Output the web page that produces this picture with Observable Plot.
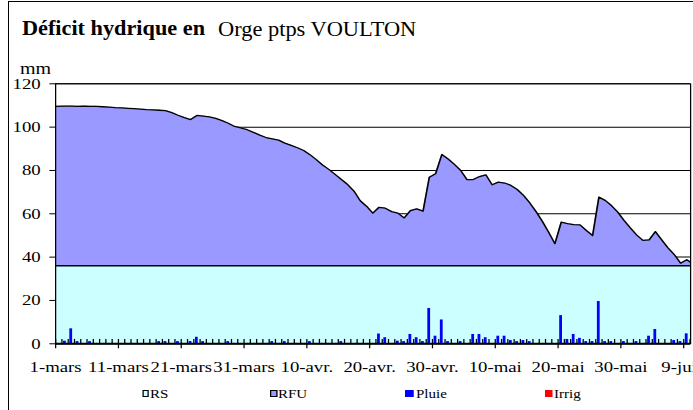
<!DOCTYPE html>
<html><head><meta charset="utf-8">
<script src="https://cdn.jsdelivr.net/npm/d3@7"></script>
<script src="https://cdn.jsdelivr.net/npm/@observablehq/plot@0.6"></script>
<style>
html,body{margin:0;padding:0;background:#fff;overflow:hidden;width:693px;height:410px;}
body{position:relative;font-family:"Liberation Serif","Times New Roman",serif;color:#000;}
#border{position:absolute;left:8px;top:1px;width:1000px;height:1000px;border-left:1.5px solid #000;border-top:1.5px solid #000;}
.t{position:absolute;white-space:nowrap;transform-origin:0 0;font-family:"Liberation Serif","Times New Roman",serif;}
#root{position:absolute;left:0;top:0;width:554.4px;height:410px;transform:scaleX(1.25);transform-origin:0 0;}
#mm{position:absolute;left:16px;top:60.6px;font-size:16px;line-height:16px;font-family:"Liberation Serif","Times New Roman",serif;}
.sq{position:absolute;top:389.5px;height:7px;box-sizing:border-box;}
.lt{position:absolute;top:387.5px;font-size:12px;line-height:12px;white-space:nowrap;font-family:"Liberation Serif","Times New Roman",serif;}
</style></head><body>
<div id="border"></div>
<div class="t" style="left:22px;top:18.4px;font-size:21px;line-height:21px;font-weight:bold;transform:scaleX(1.06)">Déficit hydrique en</div>
<div class="t" style="left:218px;top:19.25px;font-size:20px;line-height:20px;transform:scaleX(1.12)">Orge ptps VOULTON</div>
<div id="root">
  <div id="mm">mm</div>
  <div class="sq" style="left:113.6px;width:5.6px;background:#CCFFFF;border:1px solid #000"></div>
  <div class="lt" style="left:120px">RS</div>
  <div class="sq" style="left:216px;width:5.6px;background:#9999FF;border:1px solid #000"></div>
  <div class="lt" style="left:222.4px">RFU</div>
  <div class="sq" style="left:324px;width:6.5px;background:#0000FF"></div>
  <div class="lt" style="left:332.8px">Pluie</div>
  <div class="sq" style="left:436px;width:6px;background:#FF0000"></div>
  <div class="lt" style="left:443.2px">Irrig</div>
</div>
<script>
// x tick labels (every 10 days from 1 March)
const tickDays = [0, 10, 20, 30, 40, 50, 60, 70, 80, 90, 100];
const tickLabels = ["1-mars", "11-mars", "21-mars", "31-mars", "10-avr.", "20-avr.", "30-avr.", "10-mai", "20-mai", "30-mai", "9-juin"];
const yTicks = [0, 20, 40, 60, 80, 100, 120];

// RS (réserve de survie), constant level in mm
const RS = 36;

// total reserve RS + RFU, daily from 1 March (mm)
const reserve = [
  109.6,109.7,109.7,109.6,109.7,109.6,109.6,109.4,109.2,109.0,
  108.9,108.7,108.5,108.3,108.1,108.0,107.8,107.6,106.7,105.5,
  104.4,103.5,105.4,105.1,104.7,104.0,103.0,101.8,100.3,99.6,
  98.8,97.6,96.3,95.2,94.6,94.0,92.6,91.6,90.5,89.2,
  87.3,85.0,82.5,80.5,78.2,75.8,73.5,70.5,66.0,63.5,
  60.3,63.0,62.6,61.0,60.3,58.1,61.5,62.3,61.2,76.9,
  78.5,87.4,85.3,82.8,80.0,75.8,75.8,77.2,78.0,73.4,
  74.6,74.2,73.1,71.2,68.5,65.0,61.0,56.5,51.5,46.2,
  56.1,55.5,55.0,54.9,52.3,50.0,67.7,66.2,63.8,60.8,
  57.0,53.5,50.3,47.7,48.0,51.8,48.0,44.3,41.2,37.2,
  38.8,36.8
];

// daily rainfall (mm)
const pluie = [
  0,1.2,6.9,1.0,0,1.0,0,0,0,0,
  0,0,0,0,0,0,1.0,1.0,0,1.0,
  0,1.0,3.0,1.0,0,0,0,1.0,0,0,
  0,0,0,0,1.0,0,1.0,0,0,0,
  1.0,0,0,0,0,1.0,0,0,0,0,
  0,4.5,2.8,0,1.2,1.0,4.3,2.8,1.0,16.3,
  3.5,11.0,1.0,0,1.0,0,4.3,4.3,2.8,0,
  3.5,3.5,1.5,1.0,1.5,1.0,0,0,0,0,
  13.0,2.0,4.3,2.5,1.0,1.0,19.5,1.0,1.0,0,
  1.0,0,1.0,0,3.5,6.6,0,0,1.5,1.0,
  4.6,0
];

// irrigation (mm) – none applied
const irrig = [];

const days = d3.range(reserve.length);
const data = days.map(i => ({day: i, reserve: reserve[i], pluie: pluie[i]}));
const irrigData = irrig.map((v, i) => ({day: i, v}));
const minorTicks = d3.range(0, 102);

const xPos = (d, i) => (i === 0 ? 0 : d.day + 0.5);

const svg = Plot.plot({
  width: 554.4, height: 312,
  marginLeft: 44, marginRight: 2.4, marginTop: 13.3, marginBottom: 38.7,
  style: {fontFamily: '"Liberation Serif","Times New Roman",serif', fontSize: "15px", color: "#000", background: "transparent", overflow: "visible"},
  x: {domain: [0, 101.1], ticks: tickDays, tickFormat: d => tickLabels[tickDays.indexOf(d)], tickSize: 5, tickPadding: 12.5, label: null},
  y: {domain: [0, 120], ticks: yTicks, tickSize: 4.5, tickPadding: 7.5, label: null},
  marks: [
    Plot.ruleY(yTicks.slice(1), {stroke: "#000", strokeWidth: 1}),
    Plot.rectY([RS], {y: d => d, fill: "#CCFFFF"}),
    Plot.areaY(data, {x: xPos, y1: () => RS, y2: "reserve", fill: "#9999FF", clip: true}),
    Plot.ruleY([RS], {stroke: "#000", strokeWidth: 1.5}),
    Plot.line(data, {x: xPos, y: "reserve", stroke: "#000", strokeWidth: 1.3, clip: true}),
    Plot.rect(data.filter(d => d.pluie > 0), {x1: "day", x2: d => d.day + 1, y1: 0, y2: "pluie", fill: "#0000FF", insetLeft: 1.4, insetRight: 1.4}),
    Plot.rect(irrigData.filter(d => d.v > 0), {x1: "day", x2: d => d.day + 1, y1: 0, y2: "v", fill: "#FF0000", insetLeft: 1.4, insetRight: 1.4}),
    Plot.ruleX(minorTicks, {x: d => d, y1: 0, y2: 2, stroke: "#000", strokeWidth: 1}),
    Plot.frame({stroke: "#000", strokeWidth: 1}),
    Plot.ruleY([0], {stroke: "#000", strokeWidth: 2})
  ]
});
svg.style.position = "absolute";
svg.style.left = "0px";
svg.style.top = "70px";
svg.style.maxWidth = "none";
document.getElementById("root").appendChild(svg);
</script>
</body></html>
